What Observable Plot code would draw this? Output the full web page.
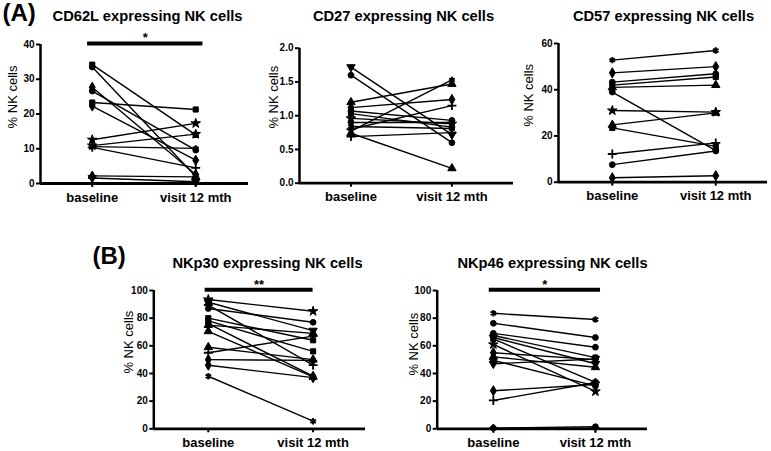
<!DOCTYPE html>
<html><head><meta charset="utf-8">
<script src="https://cdn.jsdelivr.net/npm/d3@7"></script>
<script src="https://cdn.jsdelivr.net/npm/@observablehq/plot@0.6"></script>
<style>
body{margin:0;background:#fff;}
#fig{position:relative;width:771px;height:451px;overflow:hidden;background:#fff;}
#fig svg{position:absolute;}
</style></head><body><div id="fig"></div>
<script>
// ---- shared labels ----
const timepoints = ["baseline", "visit 12 mth"];
const yLabel = "% NK cells";

// ---- CD62L ----
const cd62lTitle = "CD62L expressing NK cells";
const cd62lBaseline = [34.2, 33.5, 27.7, 26.6, 23.3, 22.3, 12.6, 10.9, 10.6, 10.4, 2.2, 1.6];
const cd62lVisit    = [14.0, 2.0, 2.6, 9.6, 21.3, 6.7, 17.3, 14.2, 10.1, 4.5, 1.9, 0.5];
const cd62lSymbols  = ["square","circle","diamond","circle","square","diamond","star","star","asterisk","plus","triangle","invtri"];
const cd62lTicks = [0, 10, 20, 30, 40];
const cd62lSig = "*";

// ---- CD27 ----
const cd27Title = "CD27 expressing NK cells";
const cd27Baseline = [1.72, 1.60, 1.20, 1.12, 1.07, 1.03, 0.96, 0.90, 0.84, 0.80, 0.77, 0.74, 0.69];
const cd27Visit    = [0.72, 0.60, 1.47, 1.24, 0.93, 0.83, 0.88, 0.90, 0.81, 1.15, 1.53, 0.22, 0.75];
const cd27Symbols  = ["invtri","circle","triangle","diamond","circle","square","star","diamond","asterisk","plus","asterisk","triangle","plus"];
const cd27Ticks = [0, 0.5, 1.0, 1.5, 2.0];

// ---- CD57 ----
const cd57Title = "CD57 expressing NK cells";
const cd57Baseline = [52.8, 47.3, 43.3, 42.0, 41.0, 39.0, 31.0, 24.8, 23.5, 12.2, 7.6, 1.9];
const cd57Visit    = [57.0, 50.0, 46.9, 45.5, 42.0, 13.7, 30.3, 30.0, 15.5, 17.0, 13.5, 2.8];
const cd57Symbols  = ["asterisk","diamond","circle","square","triangle","circle","star","triangle","square","plus","circle","diamond"];
const cd57Ticks = [0, 20, 40, 60];

// ---- NKp30 ----
const nkp30Title = "NKp30 expressing NK cells";
const nkp30Baseline = [93.5, 91.5, 89.5, 87.0, 80.0, 78.0, 76.0, 75.0, 70.5, 59.0, 55.0, 50.0, 46.0, 38.0];
const nkp30Visit    = [85.0, 71.0, 46.0, 77.0, 64.0, 56.0, 38.0, 69.0, 37.5, 50.0, 67.0, 49.5, 37.0, 5.5];
const nkp30Symbols  = ["star","invtri","plus","circle","square","square","diamond","triangle","triangle","triangle","plus","diamond","diamond","asterisk"];
const nkp30Ticks = [0, 20, 40, 60, 80, 100];
const nkp30Sig = "**";

// ---- NKp46 ----
const nkp46Title = "NKp46 expressing NK cells";
const nkp46Baseline = [83.5, 76.3, 69.0, 67.5, 66.0, 65.0, 61.0, 55.0, 52.0, 49.5, 47.0, 27.5, 20.5, 0.5, 0.3];
const nkp46Visit    = [79.0, 66.0, 59.0, 51.5, 47.0, 33.5, 27.0, 50.0, 44.5, 31.0, 50.5, 32.0, 33.5, 1.5, 0.3];
const nkp46Symbols  = ["asterisk","circle","circle","square","invtri","square","star","diamond","triangle","circle","invtri","diamond","plus","circle","plus"];
const nkp46Ticks = [0, 20, 40, 60, 80, 100];
const nkp46Sig = "*";

// ---- rendering ----
const FONT = "'Liberation Sans', Arial, Helvetica, sans-serif";
const invTriangle = {
  draw(context, size) {
    const y = -Math.sqrt(size / (Math.sqrt(3) * 3));
    context.moveTo(0, -y * 2);
    context.lineTo(-Math.sqrt(3) * y, y);
    context.lineTo(Math.sqrt(3) * y, y);
    context.closePath();
  }
};
const symbolDefs = {
  circle: {symbol: "circle", r: 2.9, sw: 1},
  square: {symbol: "square", r: 2.9, sw: 1},
  triangle: {symbol: "triangle", r: 3.1, sw: 1},
  invtri: {symbol: invTriangle, r: 3.1, sw: 1},
  diamond: {symbol: "diamond", r: 3.1, sw: 1},
  star: {symbol: "star", r: 3.0, sw: 1},
  plus: {symbol: "plus", r: 3.0, sw: 1.8},
  asterisk: {symbol: "asterisk", r: 3.0, sw: 2}
};

function panel(cfg) {
  const pairs = cfg.base.map((b, i) => ({b, v: cfg.visit[i], s: cfg.sym[i]}));
  const points = pairs.flatMap(p => [{t: 0, y: p.b, s: p.s}, {t: 1, y: p.v, s: p.s}]);
  const marks = [
    Plot.link(pairs, {x1: () => 0, x2: () => 1, y1: "b", y2: "v", stroke: "black", strokeWidth: 1.4}),
  ];
  for (const [name, def] of Object.entries(symbolDefs)) {
    const subset = points.filter(p => p.s === name);
    if (subset.length) marks.push(Plot.dot(subset, {x: "t", y: "y", symbol: def.symbol, r: def.r, fill: "black", stroke: "black", strokeWidth: def.sw}));
  }
  marks.push(
    Plot.ruleX([cfg.xDomain[0]], {stroke: "black", strokeWidth: 2.5}),
    Plot.ruleY([0], {stroke: "black", strokeWidth: 2.8}),
    Plot.axisY({ticks: cfg.ticks, tickFormat: cfg.tickFormat, tickSize: 4, tickPadding: 2, fontSize: 10, fontWeight: "bold", strokeWidth: 2, label: null}),
    Plot.axisX({ticks: [0, 1], tickFormat: i => timepoints[i], tickSize: 4, tickPadding: 5, fontSize: 13, fontWeight: "bold", strokeWidth: 2, label: null}),
    Plot.text([cfg.title], {frameAnchor: "top-left", dx: cfg.titleX - cfg.mL, dy: cfg.titleY - cfg.mT, lineAnchor: "bottom", textAnchor: "middle", fontSize: 14.7, fontWeight: "bold"})
  );
  if (cfg.letter) {
    marks.push(Plot.text([cfg.letter], {frameAnchor: "top-left", dx: cfg.letterX - cfg.mL, dy: cfg.letterY - cfg.mT, lineAnchor: "bottom", textAnchor: "start", fontSize: 24, fontWeight: "bold"}));
  }
  if (cfg.sig) {
    const s = [{label: cfg.sig, y: cfg.sigY, x1: cfg.sigX[0], x2: cfg.sigX[1]}];
    marks.push(
      Plot.ruleY(s, {y: "y", x1: "x1", x2: "x2", stroke: "black", strokeWidth: 4}),
      Plot.text(s, {x: d => (d.x1 + d.x2) / 2, y: "y", text: "label", lineAnchor: "bottom", dy: -1, fontSize: 13, fontWeight: "bold"})
    );
  }
  const svg = Plot.plot({
    width: cfg.width, height: cfg.height,
    marginLeft: cfg.mL, marginRight: cfg.mR, marginTop: cfg.mT, marginBottom: cfg.mB,
    x: {type: "linear", domain: cfg.xDomain},
    y: {type: "linear", domain: cfg.yDomain},
    style: {fontFamily: FONT, background: "transparent", overflow: "visible", color: "black"},
    marks
  });
  // rotated y-axis title, centred a little above the middle of the frame
  const lx = cfg.mL + cfg.labelDx;
  const ly = (cfg.mT + cfg.height - cfg.mB) / 2 + cfg.labelDy;
  d3.select(svg).append("text")
    .attr("transform", `translate(${lx},${ly}) rotate(-90)`)
    .attr("text-anchor", "middle")
    .attr("dy", "0.32em")
    .attr("font-size", 13)
    .attr("font-family", FONT)
    .attr("fill", "black")
    .text(yLabel);
  svg.style.left = cfg.left + "px";
  svg.style.top = cfg.top + "px";
  document.getElementById("fig").appendChild(svg);
}

panel({title: cd62lTitle, base: cd62lBaseline, visit: cd62lVisit, sym: cd62lSymbols, ticks: cd62lTicks, tickFormat: d3.format("d"),
  left: 0, top: 0, width: 255, height: 205, mL: 40, mR: 7, mT: 44, mB: 22,
  xDomain: [-0.5, 1.51], yDomain: [0, 40], titleX: 147, titleY: 20, labelDx: -27, labelDy: -16.5,
  letter: "(A)", letterX: 2, letterY: 20, sig: cd62lSig, sigY: 40.3, sigX: [-0.045, 1.07]});

panel({title: cd27Title, base: cd27Baseline, visit: cd27Visit, sym: cd27Symbols, ticks: cd27Ticks, tickFormat: d3.format(".1f"),
  left: 260, top: 0, width: 258, height: 205, mL: 39, mR: 5, mT: 47.7, mB: 22.3,
  xDomain: [-0.51, 1.61], yDomain: [0, 2], titleX: 143, titleY: 20, labelDx: -25, labelDy: -18});

panel({title: cd57Title, base: cd57Baseline, visit: cd57Visit, sym: cd57Symbols, ticks: cd57Ticks, tickFormat: d3.format("d"),
  left: 520, top: 0, width: 251, height: 205, mL: 38, mR: 4, mT: 43, mB: 23.3,
  xDomain: [-0.52, 1.50], yDomain: [0, 60], titleX: 143, titleY: 20, labelDx: -29, labelDy: -17});

panel({title: nkp30Title, base: nkp30Baseline, visit: nkp30Visit, sym: nkp30Symbols, ticks: nkp30Ticks, tickFormat: d3.format("d"),
  left: 90, top: 245, width: 280, height: 206, mL: 63.3, mR: 5, mT: 45, mB: 22.7,
  xDomain: [-0.52, 1.5], yDomain: [0, 100], titleX: 177, titleY: 22, labelDx: -24.3, labelDy: -17,
  letter: "(B)", letterX: 2, letterY: 18, sig: nkp30Sig, sigY: 100.5, sigX: [-0.03, 1.0]});

panel({title: nkp46Title, base: nkp46Baseline, visit: nkp46Visit, sym: nkp46Symbols, ticks: nkp46Ticks, tickFormat: d3.format("d"),
  left: 375, top: 245, width: 280, height: 206, mL: 61.7, mR: 8, mT: 45, mB: 22.7,
  xDomain: [-0.55, 1.51], yDomain: [0, 100], titleX: 177, titleY: 22, labelDx: -22.7, labelDy: -15,
  sig: nkp46Sig, sigY: 100.5, sigX: [-0.04, 1.05]});
</script>
</body></html>
